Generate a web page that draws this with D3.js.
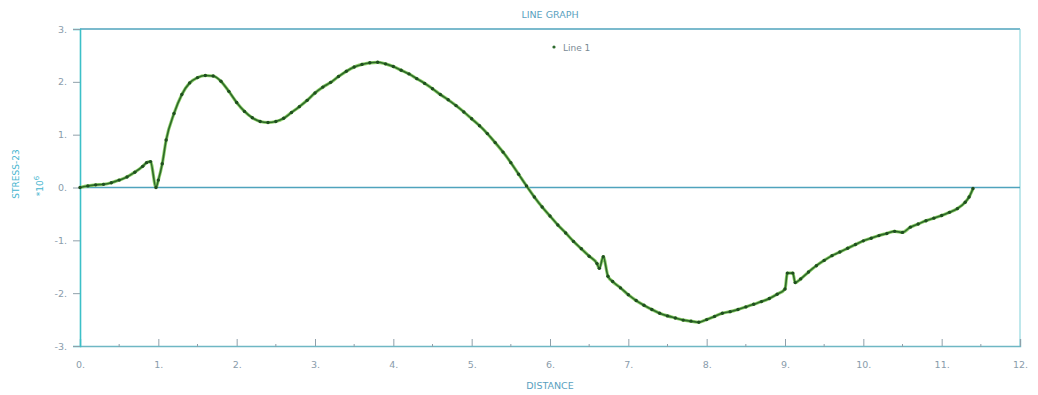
<!DOCTYPE html>
<html>
<head>
<meta charset="utf-8">
<script src="https://cdn.jsdelivr.net/npm/d3@7"></script>
<style>
  html, body { margin: 0; padding: 0; background: #ffffff; }
  svg { display: block; }
  text { font-family: "DejaVu Sans", "Liberation Sans", sans-serif; }
</style>
</head>
<body>
<svg id="chart" width="1038" height="395"></svg>
<script>
// Stress-23 along distance (values in units of 10^6)
const distance = [
  0.0, 0.1, 0.2, 0.3, 0.4, 0.5, 0.6, 0.7, 0.8, 0.85, 0.9, 0.97,
  1.0, 1.05, 1.1, 1.2, 1.3, 1.4, 1.5, 1.6, 1.7, 1.8, 1.9,
  2.0, 2.1, 2.2, 2.3, 2.4, 2.5, 2.6, 2.7, 2.8, 2.9,
  3.0, 3.1, 3.2, 3.3, 3.4, 3.5, 3.6, 3.7, 3.8, 3.9,
  4.0, 4.1, 4.2, 4.3, 4.4, 4.5, 4.6, 4.7, 4.8, 4.9,
  5.0, 5.1, 5.2, 5.3, 5.4, 5.5, 5.6, 5.7, 5.8, 5.9,
  6.0, 6.1, 6.2, 6.3, 6.4, 6.5, 6.6, 6.63, 6.68, 6.74, 6.8, 6.9,
  7.0, 7.1, 7.2, 7.3, 7.4, 7.5, 7.6, 7.7, 7.8, 7.9,
  8.0, 8.1, 8.2, 8.3, 8.4, 8.5, 8.6, 8.7, 8.8, 8.9,
  9.0, 9.03, 9.1, 9.13, 9.2, 9.3, 9.4, 9.5, 9.6, 9.7, 9.8, 9.9,
  10.0, 10.1, 10.2, 10.3, 10.4, 10.5, 10.6, 10.7, 10.8, 10.9,
  11.0, 11.1, 11.2, 11.3, 11.35, 11.4
];
const stress = [
  0.00, 0.03, 0.05, 0.06, 0.09, 0.14, 0.20, 0.29, 0.40, 0.47, 0.49, 0.00,
  0.14, 0.45, 0.90, 1.40, 1.76, 1.98, 2.08, 2.12, 2.11, 2.01, 1.82,
  1.61, 1.44, 1.32, 1.25, 1.23, 1.25, 1.31, 1.42, 1.53, 1.65,
  1.79, 1.90, 1.99, 2.10, 2.20, 2.28, 2.33, 2.36, 2.37, 2.34,
  2.29, 2.22, 2.15, 2.06, 1.97, 1.87, 1.76, 1.66, 1.55, 1.43,
  1.30, 1.17, 1.02, 0.85, 0.67, 0.47, 0.25, 0.03, -0.18, -0.37,
  -0.54, -0.71, -0.86, -1.02, -1.16, -1.30, -1.44, -1.53, -1.31, -1.68, -1.78, -1.90,
  -2.03, -2.14, -2.23, -2.31, -2.38, -2.43, -2.47, -2.51, -2.53, -2.55,
  -2.50, -2.44, -2.38, -2.35, -2.31, -2.26, -2.21, -2.16, -2.10, -2.02,
  -1.92, -1.62, -1.62, -1.80, -1.73, -1.60, -1.48, -1.38, -1.29, -1.22, -1.15, -1.08,
  -1.01, -0.96, -0.91, -0.87, -0.83, -0.85, -0.75, -0.69, -0.63, -0.58,
  -0.53, -0.47, -0.40, -0.28, -0.18, -0.02
];
const xTicks = [0, 1, 2, 3, 4, 5, 6, 7, 8, 9, 10, 11, 12];
const xMinorTicks = [0.5, 1.5, 2.5, 3.5, 4.5, 5.5, 6.5, 7.5, 8.5, 9.5, 10.5, 11.5];
const yTicks = [-3, -2, -1, 0, 1, 2, 3];
const seriesName = "Line 1";

const svg = d3.select("#chart");
const plotLeft = 80, plotRight = 1020, plotTop = 29, plotBottom = 346;

const x = d3.scaleLinear().domain([0, 12]).range([plotLeft, plotRight]);
const y = d3.scaleLinear().domain([-3, 3]).range([plotBottom, plotTop]);

const frameColor = "#4fa3bd";
const axisColor = "#3cc0c8";
const labelColor = "#8a9cab";
const titleColor = "#5a9fc0";

// frame: top and right borders
svg.append("line").attr("x1", plotLeft).attr("x2", plotRight).attr("y1", plotTop).attr("y2", plotTop)
  .attr("stroke", frameColor).attr("stroke-width", 1.6);
svg.append("line").attr("x1", plotRight).attr("x2", plotRight).attr("y1", plotTop).attr("y2", plotBottom)
  .attr("stroke", "#7fd0d8").attr("stroke-width", 1);

// zero reference line
svg.append("line").attr("x1", plotLeft).attr("x2", plotRight).attr("y1", y(0)).attr("y2", y(0))
  .attr("stroke", frameColor).attr("stroke-width", 1.6);

// x axis (ticks point up into the plot)
const xAxis = d3.axisBottom(x).tickValues(xTicks).tickSize(-7).tickPadding(15)
  .tickFormat(d => d + ".");
const gx = svg.append("g").attr("transform", `translate(0,${plotBottom})`).call(xAxis);
gx.select(".domain").attr("stroke", "#6fb7c4").attr("stroke-width", 1.4);
gx.selectAll(".tick line").attr("stroke", "#8fa0aa").attr("stroke-width", 1);
gx.selectAll(".tick text").attr("fill", labelColor).attr("font-size", 9.5);
gx.selectAll(".minor").data(xMinorTicks).enter().append("line")
  .attr("x1", d => x(d)).attr("x2", d => x(d)).attr("y1", -2).attr("y2", 1)
  .attr("stroke", "#8fa0aa").attr("stroke-width", 1);

// y axis
const yAxis = d3.axisLeft(y).tickValues(yTicks).tickSize(7).tickPadding(6)
  .tickFormat(d => d + ".");
const gy = svg.append("g").attr("transform", `translate(${plotLeft},0)`).call(yAxis);
gy.select(".domain").attr("stroke", axisColor).attr("stroke-width", 1.6);
gy.selectAll(".tick line").attr("stroke", "#8fa0aa").attr("stroke-width", 1);
gy.selectAll(".tick text").attr("fill", labelColor).attr("font-size", 9.5);

// titles
svg.append("text").attr("x", 550).attr("y", 18).attr("text-anchor", "middle")
  .attr("fill", titleColor).attr("font-size", 9.5).text("LINE GRAPH");
svg.append("text").attr("x", 550).attr("y", 389).attr("text-anchor", "middle")
  .attr("fill", titleColor).attr("font-size", 9.5).text("DISTANCE");
svg.append("text").attr("transform", "translate(19,174) rotate(-90)")
  .attr("text-anchor", "middle").attr("fill", "#45b5cf").attr("font-size", 9)
  .text("STRESS-23");
const mult = svg.append("text").attr("transform", "translate(43,186) rotate(-90)")
  .attr("text-anchor", "middle").attr("fill", "#45b5cf").attr("font-size", 9);
mult.append("tspan").text("*10");
mult.append("tspan").attr("dy", -4).attr("font-size", 7).text("6");

// legend
svg.append("circle").attr("cx", 554).attr("cy", 47).attr("r", 1.6).attr("fill", "#2d6a2d");
svg.append("text").attr("x", 563).attr("y", 50.5).attr("fill", "#7a8a94")
  .attr("font-size", 9).text(seriesName);

// data line
const pts = distance.map((d, i) => [d, stress[i]]);
const line = d3.line().x(d => x(d[0])).y(d => y(d[1])).curve(d3.curveMonotoneX);
svg.append("path").datum(pts).attr("d", line).attr("fill", "none")
  .attr("stroke", "#8ed06a").attr("stroke-width", 3.2).attr("stroke-linejoin", "round");
svg.append("path").datum(pts).attr("d", line).attr("fill", "none")
  .attr("stroke", "#2e6a2a").attr("stroke-width", 1.6).attr("stroke-linejoin", "round");
svg.append("g").selectAll("circle").data(pts).enter().append("circle")
  .attr("cx", d => x(d[0])).attr("cy", d => y(d[1])).attr("r", 1.7)
  .attr("fill", "#1f4f1f");
</script>
</body>
</html>
